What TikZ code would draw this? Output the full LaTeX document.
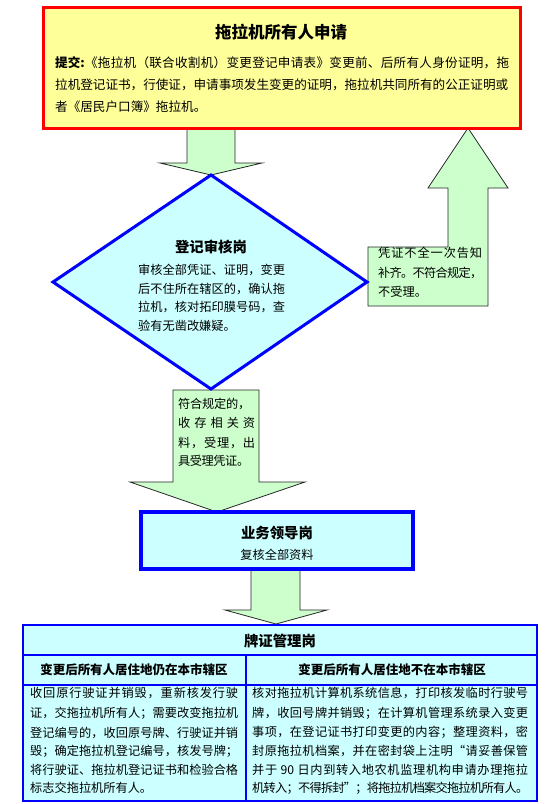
\documentclass[tikz,border=0pt]{standalone}
\usepackage{fontspec}
\setmainfont{Noto Sans CJK SC}
\definecolor{ayellow}{HTML}{FFFF99}
\definecolor{agreen}{HTML}{CCFFCC}
\definecolor{acyan}{HTML}{CCFFFF}
\definecolor{ablue}{HTML}{0000FF}
\makeatletter
\def\spreadline#1#2{\hbox to #1{\spr@first#2\relax}}
\def\spr@first#1{#1\spr@rest}
\def\spr@rest#1{\ifx#1\relax\else\hss#1\expandafter\spr@rest\fi}
\makeatother
\newcommand\ftA{\fontsize{12.6pt}{15pt}\selectfont}
\newcommand\ftB{\fontsize{12.2pt}{15pt}\selectfont}
\newcommand\ftT{\fontsize{16.5pt}{19pt}\selectfont\bfseries}
\newcommand\ftH{\fontsize{14.4pt}{17pt}\selectfont\bfseries}
\newcommand\ftC{\fontsize{12.5pt}{15pt}\selectfont\bfseries}
\def\tjiao{\textbf{提交:}}
\def\ninety{\ 90\ }
\begin{document}
\begin{tikzpicture}[x=1pt,y=-1pt,
  arrowshape/.style={fill=agreen,draw=black!85,line width=0.8pt,line join=miter},
  txt/.style={inner sep=0pt,anchor=west},
  ctr/.style={inner sep=0pt,anchor=center}]
\useasboundingbox (0,0) rectangle (551,804);
% ---- block arrows (drawn first, boxes overlap them) ----
\draw[arrowshape] (187,128) -- (235,128) -- (235,163) -- (262,163) -- (211,175) -- (160,163) -- (187,163) -- cycle;
\draw[arrowshape] (368,306) -- (368,247) -- (448,247) -- (448,188) -- (428,188) -- (468,128) -- (508,188) -- (488,188) -- (488,306) -- cycle;
\draw[arrowshape] (173,390) -- (259,390) -- (259,482) -- (305,482) -- (217,512) -- (130,482) -- (173,482) -- cycle;
\draw[arrowshape] (251,569) -- (300,569) -- (300,610) -- (327,610) -- (276,624) -- (225,610) -- (251,610) -- cycle;
% ---- top box ----
\draw[fill=ayellow,draw=red,line width=3pt] (43,7) rectangle (520,128);
\node[ctr] (toptitle) at (281,32) {\ftT 拖拉机所有人申请};
\node[txt] (topl1) at (55,63) {\ftA\spreadline{454pt}{\tjiao《拖拉机（联合收割机）变更登记申请表》变更前、后所有人身份证明，拖}};
\node[txt] (topl2) at (55,85) {\ftA\spreadline{453pt}{拉机登记证书，行使证，申请事项发生变更的证明，拖拉机共同所有的公正证明或}};
\node[txt] (topl3) at (55,107) {\ftA 者《居民户口簿》拖拉机。};
% ---- diamond ----
\draw[fill=acyan,draw=ablue,line width=3pt,line join=miter] (211,175) -- (367,282) -- (211,389) -- (53,282) -- cycle;
\node[ctr] (dtitle) at (211,247) {\ftH 登记审核岗};
\node[txt] (d1) at (138,270) {\ftB\spreadline{147pt}{审核全部凭证、证明，变更}};
\node[txt] (d2) at (138,288.5) {\ftB\spreadline{147pt}{后不住所在辖区的，确认拖}};
\node[txt] (d3) at (138,307) {\ftB\spreadline{147pt}{拉机，核对拓印膜号码，查}};
\node[txt] (d4) at (138,325.5) {\ftB 验有无凿改嫌疑。};
% ---- right callout text ----
\node[txt] (r1) at (378,253) {\ftB\spreadline{104pt}{凭证不全一次告知}};
\node[txt] (r2) at (378,273) {\ftB\spreadline{104pt}{补齐。不符合规定，}};
\node[txt] (r3) at (378,292) {\ftB 不受理。};
% ---- lower callout text ----
\node[txt] (c1) at (178,404) {\ftB\spreadline{72pt}{符合规定的，}};
\node[txt] (c2) at (178,423) {\ftB\spreadline{77pt}{收存相关资}};
\node[txt] (c3) at (178,443) {\ftB\spreadline{77pt}{料，受理，出}};
\node[txt] (c4) at (178,461) {\ftB\spreadline{71pt}{具受理凭证。}};
% ---- leader box ----
\draw[fill=acyan,draw=ablue,line width=3.2pt] (141,512) rectangle (413,569);
\node[ctr] (ltitle) at (277,533) {\ftH 业务领导岗};
\node[ctr] (lsub) at (277,555) {\ftB 复核全部资料};
% ---- table ----
\draw[fill=acyan,draw=ablue,line width=2.6pt] (23,625) rectangle (537,801);
\draw[ablue,line width=1.5pt] (23,655) -- (537,655) (23,685) -- (537,685) (246,655) -- (246,801);
\node[ctr] (ttitle) at (280,641) {\ftH 牌证管理岗};
\node[ctr] (th1) at (134,670) {\ftC 变更后所有人居住地仍在本市辖区};
\node[ctr] (th2) at (392,670) {\ftC 变更后所有人居住地不在本市辖区};
\node[txt] (a1) at (30,693) {\ftB\spreadline{208pt}{收回原行驶证并销毁，重新核发行驶}};
\node[txt] (a2) at (30,713) {\ftB\spreadline{208pt}{证，交拖拉机所有人；需要改变拖拉机}};
\node[txt] (a3) at (30,732.5) {\ftB\spreadline{208pt}{登记编号的，收回原号牌、行驶证并销}};
\node[txt] (a4) at (30,751) {\ftB\spreadline{208pt}{毁；确定拖拉机登记编号，核发号牌；}};
\node[txt] (a5) at (30,769.5) {\ftB\spreadline{208pt}{将行驶证、拖拉机登记证书和检验合格}};
\node[txt] (a6) at (30,788) {\ftB 标志交拖拉机所有人。};
\node[txt] (b1) at (252,693) {\ftB\spreadline{276pt}{核对拖拉机计算机系统信息，打印核发临时行驶号}};
\node[txt] (b2) at (252,713) {\ftB\spreadline{276pt}{牌，收回号牌并销毁；在计算机管理系统录入变更}};
\node[txt] (b3) at (252,732.5) {\ftB\spreadline{276pt}{事项，在登记证书打印变更的内容；整理资料，密}};
\node[txt] (b4) at (252,751) {\ftB\spreadline{276pt}{封原拖拉机档案，并在密封袋上注明“请妥善保管}};
\node[txt] (b5) at (252,769.5) {\ftB\spreadline{276pt}{并于\ninety 日内到转入地农机监理机构申请办理拖拉}};
\node[txt] (b6) at (252,788) {\ftB\spreadline{276pt}{机转入；不得拆封”；将拖拉机档案交拖拉机所有人。}};
\end{tikzpicture}
\end{document}
